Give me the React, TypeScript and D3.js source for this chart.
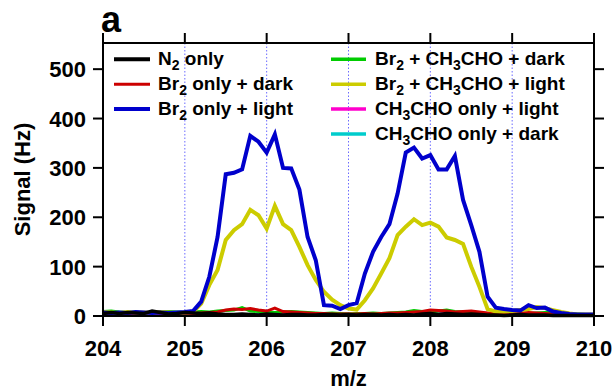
import React from "react";
import * as d3 from "d3";

// m/z grid: 204.0 .. 210.0 step 0.1
const mzStart = 204.0;
const mzStep = 0.1;

const seriesNames = [
  "N2 only",
  "Br2 only + dark",
  "Br2 only + light",
  "Br2 + CH3CHO + dark",
  "Br2 + CH3CHO + light",
  "CH3CHO only + light",
  "CH3CHO only + dark",
];

const n2Only = [5,7,5,7,6,5,10,7,4,5, 7,6,5,6,4,3,3,4,3,2, 4,3,2,3,3,2,2,3,3,2, 3,2,3,3,2,3,2,3,2,4, 5,3,5,4,3,4,3,2,2,1, 2,3,2,2,2,1,1,1,1,1,1];
const br2Dark = [6,7,5,6,7,6,5,6,7,6, 6,5,6,7,8,12,14,13,15,12, 10,16,9,8,7,6,5,5,4,4, 4,4,5,4,5,6,6,7,8,9, 12,11,10,8,9,10,8,6,4,5, 5,6,7,6,5,4,3,3,2,2,2];
const br2Light = [7,6,7,6,8,7,6,7,6,7, 8,10,29,80,160,287,290,297,365,353, 331,368,300,299,256,160,113,22,21,14, 22,26,86,130,160,186,248,331,341,319, 326,297,297,324,235,184,130,39,17,14, 12,11,22,16,17,9,6,4,3,3,3];
const br2AcDark = [9,10,8,7,8,6,7,8,9,8, 7,8,9,8,10,11,12,17,10,9, 8,7,8,9,8,7,6,5,6,5, 4,5,5,6,5,6,7,8,11,9, 8,10,12,9,8,6,5,4,3,3, 3,4,5,6,7,8,6,5,4,3,3];
const br2AcLight = [8,7,6,8,7,7,6,8,7,6, 7,8,25,63,93,154,174,186,215,204, 177,223,186,174,140,103,73,49,33,22, 15,13,32,56,86,117,164,181,196,184, 189,181,159,154,146,100,59,14,9,9, 10,12,14,18,16,12,8,5,3,3,3];
const acLight = [3,2,1,2,3,2,1,2,3,2, 4,3,2,2,1,1,2,3,2,1, 2,2,3,3,4,5,4,3,4,5, 4,3,2,2,1,2,3,3,2,2, 3,4,5,5,4,5,6,5,4,3, 6,5,4,3,3,2,2,2,1,1,1];
const acDark = [4,3,5,6,4,7,5,4,3,5, 6,7,6,5,4,3,3,2,2,3, 3,2,2,1,1,2,2,3,2,2, 2,2,1,1,2,2,1,1,2,2, 3,4,5,6,5,4,3,3,4,3, 3,2,2,3,2,2,2,1,1,1,1];

const xTicks = [204, 205, 206, 207, 208, 209, 210];
const yTicks = [0, 100, 200, 300, 400, 500];
const gridX = [205, 206, 207, 208, 209];

const seriesData = [n2Only, br2Dark, br2Light, br2AcDark, br2AcLight, acLight, acDark];
const colors = ["#000000", "#CC0000", "#0000CC", "#00CC00", "#CCCC00", "#FF00CC", "#00CCCC"];
const widths = [3.5, 3, 4, 3, 4, 3, 3];
const drawOrder = [6, 5, 3, 1, 4, 2, 0];

const W = 616, H = 391;
const left = 103, right = 594, top = 43, bottom = 316;
const FONT = "'Liberation Sans', Arial, Helvetica, sans-serif";

function Label({ text, x, y, size }: { text: string; x: number; y: number; size: number }) {
  const parts = text.split(/(\d)/).filter((p) => p.length > 0);
  const out: React.ReactNode[] = [];
  const shift = 5.5;
  let sub = false;
  parts.forEach((p, i) => {
    if (/^\d$/.test(p)) {
      out.push(
        <tspan key={i} fontSize={14} dy={shift}>{p}</tspan>
      );
      sub = true;
    } else {
      out.push(
        <tspan key={i} dy={sub ? -shift : 0}>{p}</tspan>
      );
      sub = false;
    }
  });
  return (
    <text x={x} y={y} fontSize={size} fontWeight="bold" fontFamily={FONT} fill="#000">
      {out}
    </text>
  );
}

export default function App() {
  const x = d3.scaleLinear().domain([204, 210]).range([left, right]);
  const y = d3.scaleLinear().domain([0, 553]).range([bottom, top]);
  const line = d3
    .line<number>()
    .x((_, i) => x(mzStart + i * mzStep))
    .y((d) => y(d));

  const tickLen = 10;
  const legendRows = [0, 1, 2].map((i) => 59.3 + i * 24.9);
  const legendRows2 = [0, 1, 2, 3].map((i) => 59.3 + i * 24.9);

  return (
    <svg width={W} height={H} style={{ position: "absolute", left: 0, top: 0, background: "#fff" }}>
      <rect x={0} y={0} width={W} height={H} fill="#fff" />
      {gridX.map((g) => (
        <line key={g} x1={x(g)} x2={x(g)} y1={top} y2={bottom} stroke="#5a5aff" strokeWidth={0.9} strokeDasharray="1.5,2" />
      ))}
      {drawOrder.map((k) => (
        <path key={k} d={line(seriesData[k]) || ""} fill="none" stroke={colors[k]} strokeWidth={widths[k]} strokeLinejoin="miter" />
      ))}
      <rect x={left} y={top} width={right - left} height={bottom - top} fill="none" stroke="#000" strokeWidth={2} />
      {xTicks.map((t) => (
        <g key={t}>
          <line x1={x(t)} x2={x(t)} y1={bottom} y2={bottom + tickLen} stroke="#000" strokeWidth={2} />
          <line x1={x(t)} x2={x(t)} y1={top} y2={top - tickLen} stroke="#000" strokeWidth={2} />
          <text x={x(t)} y={356} textAnchor="middle" fontSize={22} fontWeight="bold" fontFamily={FONT}>{t}</text>
        </g>
      ))}
      {yTicks.map((t) => (
        <g key={t}>
          <line x1={left} x2={left - tickLen} y1={y(t)} y2={y(t)} stroke="#000" strokeWidth={2} />
          <line x1={right} x2={right + tickLen} y1={y(t)} y2={y(t)} stroke="#000" strokeWidth={2} />
          <text x={86} y={y(t) + 8} textAnchor="end" fontSize={22} fontWeight="bold" fontFamily={FONT}>{t}</text>
        </g>
      ))}
      <text x={(left + right) / 2} y={386} textAnchor="middle" fontSize={22} fontWeight="bold" fontFamily={FONT}>m/z</text>
      <text transform={`translate(30,${(top + bottom) / 2}) rotate(-90)`} textAnchor="middle" fontSize={22} fontWeight="bold" fontFamily={FONT}>Signal (Hz)</text>
      <text x={101} y={32} fontSize={36} fontWeight="bold" fontFamily={FONT}>a</text>
      {legendRows.map((ly, i) => (
        <g key={i}>
          <line x1={114} x2={150} y1={ly} y2={ly} stroke={colors[i]} strokeWidth={i === 1 ? 3 : 4} />
          <Label text={seriesNames[i]} x={158} y={ly + 5.5} size={19} />
        </g>
      ))}
      {legendRows2.map((ly, i) => (
        <g key={i}>
          <line x1={331} x2={366} y1={ly} y2={ly} stroke={colors[i + 3]} strokeWidth={3.5} />
          <Label text={seriesNames[i + 3]} x={375} y={ly + 5.5} size={19} />
        </g>
      ))}
    </svg>
  );
}
